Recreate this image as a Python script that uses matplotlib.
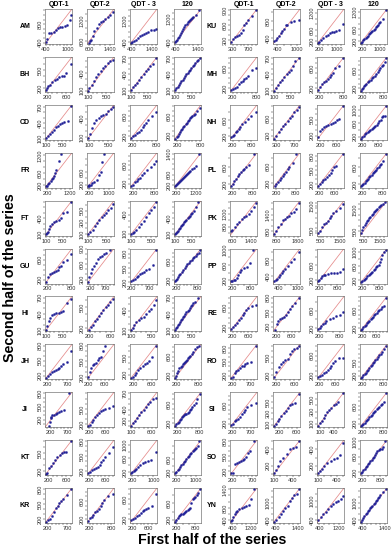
import matplotlib.pyplot as plt
import numpy as np

plt.rcParams.update({
    'font.family': ['Liberation Sans', 'DejaVu Sans'],
    'font.size': 4,
    'axes.linewidth': 0.4,
    'axes.edgecolor': '#555555',
    'xtick.major.size': 1.3,
    'ytick.major.size': 1.3,
    'xtick.major.width': 0.35,
    'ytick.major.width': 0.35,
    'xtick.major.pad': 0.8,
    'ytick.major.pad': 0.6,
    'xtick.labelsize': 4.1,
    'ytick.labelsize': 4.1,
    'xtick.color': '#333333',
    'ytick.color': '#333333',
})

columns = ['QDT-1', 'QDT-2', 'QDT - 3', '120']
left_stations = ['AM', 'BH', 'CD', 'FR', 'FT', 'GU', 'HI', 'JH', 'JI', 'KT', 'KR']
right_stations = ['KU', 'MH', 'NH', 'PL', 'PK', 'PP', 'RE', 'RO', 'SI', 'SO', 'YN']

# first half quantiles (x) / second half quantiles (y), one list per column
AM_x = [[400, 430, 480, 550, 620, 680, 740, 800, 860, 930, 1000, 1060, 1100],
        [580, 620, 680, 740, 800, 880, 960, 1040, 1120, 1200, 1300, 1400, 1500],
        [380, 450, 520, 600, 700, 800, 900, 1000, 1100, 1200, 1350, 1500, 1600],
        [380, 420, 460, 500, 550, 600, 650, 700, 750, 800, 850, 900, 950, 1000, 1050, 1100, 1150, 1200, 1300, 1450]]
AM_y = [[420, 480, 600, 610, 640, 680, 720, 740, 750, 760, 780, 900, 1000],
        [560, 600, 650, 760, 900, 1000, 1100, 1150, 1200, 1250, 1300, 1350, 1450],
        [380, 420, 460, 500, 560, 620, 680, 720, 760, 800, 850, 870, 880],
        [390, 430, 480, 530, 590, 650, 720, 790, 860, 920, 980, 1030, 1080, 1120, 1160, 1200, 1240, 1280, 1350, 1500]]

BH_x = [[160, 180, 200, 250, 300, 350, 400, 450, 500, 550, 600, 700],
        [100, 130, 180, 230, 280, 330, 380, 430, 480, 530, 580, 650],
        [100, 150, 200, 250, 300, 350, 400, 450, 500, 550, 620, 700],
        [100, 130, 160, 190, 220, 250, 280, 310, 340, 370, 400, 430, 460, 490, 520, 550, 580, 620, 660, 700]]
BH_y = [[170, 200, 230, 260, 300, 330, 360, 390, 400, 410, 450, 600],
        [100, 140, 200, 260, 330, 380, 440, 480, 520, 560, 600, 620],
        [110, 160, 210, 250, 300, 350, 400, 460, 500, 560, 600, 700],
        [110, 140, 170, 200, 240, 270, 300, 340, 370, 400, 430, 460, 490, 520, 550, 580, 610, 640, 670, 700]]

CD_x = [[100, 150, 200, 250, 300, 350, 400, 450, 500, 550, 650, 720],
        [80, 120, 160, 200, 250, 300, 350, 400, 450, 500, 550, 600],
        [150, 200, 250, 300, 350, 400, 450, 500, 550, 600, 700, 800],
        [150, 180, 210, 240, 270, 300, 330, 360, 390, 420, 450, 480, 510, 540, 570, 600, 640, 680, 720, 800]]
CD_y = [[110, 150, 190, 230, 270, 320, 340, 380, 390, 420, 440, 720],
        [90, 150, 250, 330, 380, 410, 440, 460, 480, 520, 560, 580],
        [160, 200, 230, 260, 280, 330, 380, 430, 470, 520, 600, 680],
        [140, 170, 200, 240, 280, 310, 340, 370, 400, 430, 460, 490, 520, 550, 570, 590, 610, 640, 700, 760]]

FR_x = [[150, 200, 250, 300, 350, 400, 450, 500, 550, 600, 700, 800],
        [150, 180, 200, 250, 300, 400, 500, 600, 650, 700, 800],
        [150, 200, 250, 300, 350, 400, 450, 500, 600, 700, 800, 850],
        [150, 200, 250, 300, 350, 400, 450, 500, 550, 600, 650, 700, 750, 800, 850, 900, 1000, 1100, 1200, 1350]]
FR_y = [[150, 180, 220, 280, 330, 400, 450, 520, 600, 700, 1000, 1250],
        [150, 160, 180, 200, 250, 300, 350, 500, 600, 900, 1150],
        [140, 180, 230, 260, 300, 330, 380, 430, 500, 560, 620, 700],
        [140, 180, 220, 260, 300, 340, 380, 420, 460, 500, 540, 580, 620, 660, 700, 740, 800, 860, 950, 1400]]

FT_x = [[100, 120, 150, 180, 200, 250, 300, 350, 400, 450, 500, 600, 700],
        [100, 150, 200, 250, 300, 350, 400, 450, 500, 550, 600, 650],
        [100, 130, 160, 200, 250, 300, 350, 400, 450, 500, 550, 600],
        [100, 125, 150, 175, 200, 225, 250, 275, 300, 325, 350, 375, 400, 425, 450, 475, 500, 550, 600, 650]]
FT_y = [[100, 120, 150, 200, 260, 300, 320, 340, 360, 400, 500, 520, 700],
        [100, 140, 180, 240, 290, 340, 390, 430, 470, 510, 550, 620],
        [90, 110, 130, 160, 200, 260, 300, 370, 430, 470, 520, 600],
        [100, 120, 145, 170, 195, 220, 245, 270, 295, 320, 345, 370, 395, 420, 445, 470, 500, 540, 600, 700]]

GU_x = [[150, 200, 250, 300, 350, 400, 450, 500, 550, 600, 700, 800],
        [250, 280, 320, 360, 400, 450, 500, 550, 600, 650, 700, 800],
        [200, 250, 300, 350, 400, 450, 500, 550, 600, 700, 800, 880],
        [150, 180, 210, 240, 270, 300, 340, 380, 420, 460, 500, 540, 580, 620, 660, 700, 740, 780, 820, 860]]
GU_y = [[160, 260, 320, 340, 360, 380, 400, 450, 480, 560, 600, 720],
        [250, 350, 420, 500, 560, 620, 700, 740, 760, 800, 820, 880],
        [220, 240, 260, 300, 340, 380, 400, 420, 460, 480, 560, 880],
        [170, 190, 220, 260, 300, 340, 380, 420, 460, 500, 540, 580, 610, 640, 670, 700, 730, 760, 790, 850]]

HI_x = [[100, 130, 160, 200, 250, 300, 350, 400, 450, 500, 600, 700],
        [180, 220, 260, 300, 340, 380, 420, 460, 500, 540, 580, 640],
        [100, 130, 160, 200, 250, 300, 350, 400, 450, 500, 550, 600],
        [100, 125, 150, 175, 200, 225, 250, 275, 300, 325, 350, 375, 400, 425, 450, 475, 500, 540, 580, 640]]
HI_y = [[100, 180, 260, 320, 380, 400, 410, 420, 430, 460, 600, 680],
        [170, 210, 250, 300, 330, 380, 420, 460, 500, 540, 580, 620],
        [100, 140, 180, 230, 260, 280, 300, 350, 400, 430, 480, 560],
        [100, 130, 160, 190, 220, 250, 280, 310, 340, 370, 400, 430, 450, 480, 510, 540, 570, 600, 620, 700]]

JH_x = [[150, 200, 250, 300, 350, 400, 450, 500, 550, 600, 700, 800],
        [180, 220, 260, 300, 340, 380, 420, 460, 500, 540, 600],
        [150, 180, 220, 260, 300, 350, 400, 450, 500, 550, 600, 700],
        [150, 180, 210, 240, 270, 300, 330, 360, 390, 420, 450, 480, 510, 540, 570, 600, 650, 700, 750, 800]]
JH_y = [[160, 200, 240, 270, 300, 320, 340, 360, 400, 430, 480, 700],
        [200, 300, 380, 420, 440, 460, 520, 560, 580, 700, 800],
        [140, 160, 190, 230, 270, 310, 350, 380, 400, 440, 500, 700],
        [160, 200, 250, 300, 350, 380, 410, 440, 460, 480, 500, 530, 560, 590, 620, 650, 700, 750, 800, 830]]

JI_x = [[150, 180, 200, 220, 250, 300, 350, 400, 450, 500, 600, 750],
        [180, 220, 260, 300, 350, 400, 450, 500, 550, 600, 700, 800],
        [100, 150, 200, 250, 300, 350, 400, 450, 500, 550, 620, 700],
        [150, 180, 210, 240, 270, 300, 330, 360, 390, 420, 450, 480, 510, 540, 570, 600, 650, 700, 750, 820]]
JI_y = [[60, 150, 230, 260, 300, 320, 340, 360, 380, 400, 420, 800],
        [170, 190, 240, 290, 340, 380, 420, 460, 480, 500, 520, 560],
        [100, 150, 200, 240, 300, 350, 400, 450, 500, 550, 600, 620],
        [140, 170, 200, 230, 260, 290, 320, 340, 360, 380, 400, 420, 440, 470, 500, 540, 580, 620, 700, 800]]

KT_x = [[150, 180, 220, 260, 300, 350, 400, 450, 500, 550, 600, 700],
        [150, 200, 250, 300, 350, 400, 450, 500, 550, 600, 700, 800],
        [150, 200, 250, 300, 350, 400, 500, 600, 700, 800, 900, 1100],
        [150, 200, 250, 300, 350, 400, 450, 500, 550, 600, 650, 700, 750, 800, 850, 900, 950, 1000, 1050, 1100]]
KT_y = [[150, 170, 250, 280, 330, 380, 430, 470, 500, 520, 520, 700],
        [170, 190, 220, 240, 260, 280, 330, 380, 430, 480, 560, 680],
        [160, 190, 230, 260, 300, 340, 400, 460, 500, 520, 560, 800],
        [160, 210, 260, 310, 360, 410, 460, 510, 560, 610, 660, 710, 760, 800, 840, 880, 920, 960, 1000, 1150]]

KR_x = [[150, 200, 250, 300, 350, 400, 450, 500, 550, 600, 700, 800],
        [150, 200, 250, 300, 350, 400, 450, 500, 550, 600, 700, 850],
        [150, 200, 250, 300, 350, 400, 450, 500, 550, 600, 700, 800],
        [150, 190, 230, 270, 310, 350, 390, 430, 470, 510, 550, 590, 630, 670, 710, 750, 800, 850, 900, 950]]
KR_y = [[150, 180, 200, 260, 350, 420, 470, 520, 560, 600, 680, 800],
        [170, 220, 260, 300, 350, 380, 420, 480, 550, 620, 700, 750],
        [180, 200, 230, 260, 290, 330, 360, 380, 400, 420, 460, 700],
        [150, 200, 240, 280, 310, 330, 350, 370, 390, 410, 430, 460, 500, 600, 700, 730, 760, 800, 850, 950]]

KU_x = [[250, 300, 350, 400, 450, 500, 550, 600, 650, 700, 800, 900],
        [300, 350, 400, 450, 500, 550, 600, 650, 700, 800, 900, 1050],
        [150, 200, 300, 400, 500, 600, 700, 800, 900, 1000, 1100, 1300],
        [150, 200, 250, 300, 350, 400, 450, 500, 550, 600, 650, 700, 750, 800, 850, 900, 950, 1000, 1100, 1250]]
KU_y = [[270, 330, 360, 380, 400, 450, 500, 600, 650, 700, 780, 900],
        [330, 360, 420, 460, 520, 580, 620, 700, 720, 780, 800, 820],
        [150, 180, 250, 320, 380, 420, 480, 520, 540, 560, 600, 800],
        [150, 190, 230, 270, 310, 350, 390, 430, 470, 510, 550, 590, 630, 670, 710, 760, 810, 860, 950, 1250]]

MH_x = [[150, 200, 250, 300, 350, 400, 450, 500, 550, 600, 700, 800],
        [100, 150, 200, 250, 300, 350, 400, 450, 500, 550, 600, 700],
        [150, 200, 250, 300, 350, 400, 450, 500, 550, 600, 700, 800],
        [150, 180, 210, 240, 270, 300, 340, 380, 420, 460, 500, 540, 580, 620, 660, 700, 740, 780, 820, 860]]
MH_y = [[170, 190, 210, 230, 280, 330, 350, 380, 400, 450, 560, 600],
        [100, 150, 200, 260, 300, 360, 400, 440, 480, 560, 650, 700],
        [170, 230, 280, 320, 350, 380, 420, 460, 500, 600, 650, 800],
        [150, 180, 210, 240, 270, 300, 330, 360, 390, 420, 450, 480, 510, 550, 600, 640, 680, 720, 780, 860]]

NH_x = [[150, 200, 250, 300, 350, 400, 450, 500, 600, 700, 800, 950],
        [250, 300, 350, 400, 450, 500, 550, 600, 650, 700, 750, 800],
        [150, 200, 250, 300, 350, 400, 450, 500, 550, 600, 650, 750],
        [150, 200, 250, 300, 350, 400, 450, 500, 550, 600, 650, 700, 750, 800, 850, 900, 950, 1000, 1050, 1100]]
NH_y = [[180, 200, 240, 300, 330, 380, 430, 500, 560, 620, 700, 800],
        [250, 300, 360, 410, 460, 500, 540, 600, 640, 700, 740, 780],
        [180, 280, 330, 360, 380, 400, 420, 440, 460, 490, 520, 750],
        [150, 190, 230, 270, 310, 350, 380, 410, 440, 470, 500, 530, 560, 600, 650, 700, 780, 800, 820, 1100]]

PL_x = [[150, 200, 250, 300, 350, 400, 450, 500, 550, 600, 700, 850],
        [150, 200, 250, 300, 350, 400, 450, 500, 550, 600, 700, 800],
        [150, 200, 250, 300, 350, 400, 450, 500, 550, 600, 650, 850],
        [150, 185, 220, 255, 290, 325, 360, 395, 430, 465, 500, 535, 570, 605, 640, 675, 710, 760, 820, 900]]
PL_y = [[160, 200, 280, 330, 380, 430, 480, 520, 560, 600, 650, 900],
        [130, 180, 230, 280, 330, 380, 430, 480, 540, 600, 680, 900],
        [160, 200, 240, 280, 320, 360, 400, 450, 500, 560, 600, 850],
        [150, 180, 210, 240, 270, 300, 330, 360, 390, 420, 450, 480, 510, 540, 570, 600, 640, 680, 730, 900]]

PK_x = [[550, 600, 700, 800, 900, 1000, 1100, 1200, 1300, 1400, 1500, 1600],
        [700, 800, 900, 1000, 1100, 1200, 1300, 1400, 1500, 1600, 1700, 1850],
        [350, 450, 550, 650, 750, 850, 950, 1050, 1150, 1300, 1500, 1650],
        [350, 420, 490, 560, 630, 700, 770, 840, 910, 980, 1050, 1120, 1190, 1260, 1330, 1400, 1470, 1540, 1650, 1800]]
PK_y = [[650, 700, 780, 870, 950, 1050, 1100, 1150, 1200, 1300, 1450, 1550],
        [700, 800, 950, 1050, 1200, 1250, 1300, 1350, 1450, 1500, 1600, 1800],
        [400, 500, 650, 750, 800, 900, 1000, 1100, 1200, 1300, 1400, 1550],
        [400, 550, 700, 800, 880, 950, 1020, 1090, 1160, 1230, 1300, 1360, 1420, 1480, 1540, 1600, 1650, 1700, 1750, 1850]]

PP_x = [[150, 200, 250, 300, 350, 400, 450, 500, 600, 700, 800, 900],
        [250, 300, 350, 400, 450, 500, 550, 600, 700, 800, 900, 1050],
        [150, 200, 250, 300, 350, 400, 500, 600, 700, 800, 900, 1000],
        [150, 195, 240, 285, 330, 375, 420, 465, 510, 555, 600, 645, 690, 735, 780, 825, 870, 915, 960, 1050]]
PP_y = [[170, 180, 200, 220, 260, 350, 420, 480, 520, 560, 650, 1000],
        [280, 300, 340, 380, 420, 470, 520, 580, 660, 740, 820, 1000],
        [170, 200, 250, 300, 330, 350, 370, 380, 390, 400, 430, 500],
        [160, 190, 220, 250, 280, 310, 340, 370, 400, 440, 480, 520, 560, 600, 640, 700, 800, 900, 1000, 1050]]

RE_x = [[150, 200, 250, 300, 350, 400, 450, 500, 550, 600, 700, 800],
        [150, 200, 250, 300, 350, 400, 450, 500, 550, 600, 700, 800],
        [150, 200, 250, 300, 350, 400, 500, 600, 700, 800, 900],
        [150, 185, 220, 255, 290, 325, 360, 395, 430, 465, 500, 535, 570, 605, 640, 680, 720, 760, 820, 880]]
RE_y = [[180, 210, 250, 300, 350, 400, 450, 500, 550, 600, 640, 660],
        [130, 250, 320, 350, 380, 400, 440, 500, 560, 620, 700, 800],
        [170, 200, 240, 280, 320, 360, 400, 440, 480, 500, 560],
        [150, 180, 210, 240, 270, 300, 330, 360, 390, 420, 450, 480, 510, 540, 570, 600, 630, 660, 700, 880]]

RO_x = [[150, 200, 250, 300, 350, 400, 450, 500, 550, 600, 700, 850],
        [150, 200, 250, 300, 350, 400, 450, 500, 550, 600, 650, 700],
        [150, 200, 250, 300, 350, 400, 450, 500, 550, 600, 700, 800],
        [150, 185, 220, 255, 290, 325, 360, 395, 430, 465, 500, 535, 570, 605, 640, 680, 720, 760, 820, 880]]
RO_y = [[160, 180, 250, 300, 330, 360, 400, 420, 450, 480, 500, 850],
        [170, 250, 330, 380, 420, 450, 480, 560, 600, 640, 660, 700],
        [170, 200, 220, 250, 280, 320, 350, 400, 450, 500, 550, 560],
        [150, 180, 210, 240, 270, 305, 340, 375, 410, 445, 480, 515, 550, 585, 620, 660, 700, 740, 800, 880]]

SI_x = [[150, 200, 250, 300, 350, 400, 450, 500, 550, 600, 700, 850],
        [80, 120, 160, 200, 250, 300, 350, 400, 450, 500, 550, 650],
        [60, 100, 140, 180, 220, 260, 300, 350, 400, 450, 500, 600],
        [150, 185, 220, 255, 290, 325, 360, 395, 430, 465, 500, 535, 570, 605, 640, 680, 720, 760, 820, 880]]
SI_y = [[160, 200, 250, 270, 300, 350, 400, 450, 500, 550, 600, 650],
        [80, 120, 160, 210, 260, 300, 350, 400, 450, 460, 480, 640],
        [60, 110, 150, 190, 250, 300, 330, 350, 400, 420, 450, 600],
        [150, 175, 200, 225, 250, 280, 310, 340, 370, 400, 430, 460, 490, 520, 550, 580, 610, 640, 680, 880]]

SO_x = [[150, 200, 250, 300, 350, 400, 450, 500, 550, 600, 650, 750],
        [100, 130, 160, 200, 250, 300, 350, 400, 450, 500],
        [100, 130, 160, 200, 250, 300, 350, 400, 450, 500],
        [150, 190, 230, 270, 310, 350, 390, 430, 470, 510, 550, 590, 630, 670, 710, 750, 800, 850, 900, 950]]
SO_y = [[160, 170, 350, 370, 380, 400, 420, 440, 480, 560, 600, 800],
        [110, 150, 200, 260, 300, 350, 400, 420, 430, 500],
        [110, 130, 160, 200, 230, 260, 280, 300, 330, 480],
        [160, 200, 240, 280, 320, 360, 400, 440, 480, 520, 560, 600, 640, 700, 750, 780, 790, 800, 850, 1000]]

YN_x = [[350, 400, 450, 500, 550, 600, 700, 800, 900, 1000, 1100, 1200, 1300],
        [350, 450, 550, 650, 750, 850, 950, 1050, 1150, 1250, 1350, 1450],
        [350, 450, 550, 650, 750, 850, 950, 1050, 1150, 1250, 1350],
        [350, 400, 450, 500, 550, 600, 650, 700, 750, 800, 850, 900, 950, 1000, 1050, 1100, 1150, 1200, 1300, 1450]]
YN_y = [[360, 400, 500, 600, 650, 700, 750, 800, 820, 850, 900, 1100, 1400],
        [350, 420, 500, 600, 700, 800, 900, 1050, 1150, 1250, 1300, 1450],
        [400, 500, 600, 650, 750, 850, 900, 950, 1000, 1050, 1150],
        [350, 420, 480, 540, 600, 650, 700, 750, 800, 850, 900, 950, 1000, 1050, 1100, 1150, 1200, 1250, 1350, 1450]]

# tick labels shown under / beside each panel
AM_xt = [(400, 1000), (600, 1400), (400, 1400), (400, 1400)]
AM_yt = [(400, 800), (600, 1200), (400, 1200), (400, 1200)]
BH_xt = [(200, 600), (100, 500), (100, 500), (100, 500)]
BH_yt = [(200, 500), (100, 400), (100, 400, 700), (100, 400, 700)]
CD_xt = [(100, 500), (100, 500), (200, 800), (200, 800)]
CD_yt = [(100, 400, 700), (100, 400), (200, 600), (200, 600)]
FR_xt = [(200, 1200), (200, 1000), (200, 800), (200, 1200)]
FR_yt = [(200, 600, 1200), (200, 600, 1200), (200, 600), (200, 600, 1400)]
FT_xt = [(100, 500), (100, 500), (100, 500), (100, 500)]
FT_yt = [(100, 400), (100, 300, 500), (100, 400), (100, 400)]
GU_xt = [(200, 800), (300, 700), (200, 700), (200, 800)]
GU_yt = [(200, 600), (300, 600, 900), (200, 500, 800), (200, 600)]
HI_xt = [(100, 500), (200, 600), (100, 500), (100, 500)]
HI_yt = [(100, 400, 700), (200, 500), (100, 400), (100, 400, 700)]
JH_xt = [(200, 700), (200, 600), (200, 600), (200, 800)]
JH_yt = [(200, 500, 800), (200, 500, 800), (200, 500), (200, 600)]
JI_xt = [(200, 700), (200, 600), (100, 600), (200, 800)]
JI_yt = [(200, 500, 800), (200, 500), (200, 400, 700), (200, 600)]
KT_xt = [(200, 600), (200, 600), (200, 1000), (200, 1000)]
KT_yt = [(200, 500), (200, 500, 800), (200, 600, 1000), (200, 600, 1200)]
KR_xt = [(200, 700), (200, 800), (200, 600), (200, 800)]
KR_yt = [(200, 500, 800), (200, 600, 1000), (200, 600, 1000), (200, 600, 1000)]
KU_xt = [(300, 700), (400, 1000), (200, 1000), (200, 1000)]
KU_yt = [(300, 600, 900), (400, 800), (200, 600, 1200), (200, 600, 1200)]
MH_xt = [(200, 800), (100, 500), (200, 800), (200, 800)]
MH_yt = [(200, 600), (100, 400, 700), (200, 600), (200, 600)]
NH_xt = [(200, 800), (300, 700), (200, 600), (200, 800)]
NH_yt = [(200, 600, 1000), (300, 600), (200, 500), (200, 600, 1000)]
PL_xt = [(200, 800), (200, 800), (200, 600), (200, 800)]
PL_yt = [(200, 600), (200, 600), (200, 500, 800), (200, 600)]
PK_xt = [(600, 1400), (800, 1800), (500, 1500), (500, 1500)]
PK_yt = [(800, 1200), (800, 1400), (500, 1500), (500, 1500)]
PP_xt = [(200, 800), (400, 1000), (200, 800), (200, 800)]
PP_yt = [(200, 600, 1000), (400, 800), (200, 600), (200, 600, 1000)]
RE_xt = [(200, 600), (200, 600), (200, 800), (200, 600)]
RE_yt = [(200, 600), (200, 500, 800), (200, 600), (200, 600)]
RO_xt = [(200, 700), (200, 600), (200, 600), (200, 800)]
RO_yt = [(200, 500, 800), (200, 500), (200, 600), (200, 500)]
SI_xt = [(200, 700), (200, 600), (100, 400), (200, 800)]
SI_yt = [(200, 600), (100, 300, 500), (100, 300, 500), (200, 600)]
SO_xt = [(200, 700), (100, 400), (100, 400), (200, 800)]
SO_yt = [(200, 500, 800), (200, 400), (200, 400), (200, 600, 1000)]
YN_xt = [(400, 1200), (400, 1400), (400, 1200), (400, 1400)]
YN_yt = [(400, 800, 1400), (400, 1000), (400, 1000), (400, 1000)]

g = globals()
first_half = {s: g[s + '_x'] for s in left_stations + right_stations}
second_half = {s: g[s + '_y'] for s in left_stations + right_stations}
x_labels = {s: g[s + '_xt'] for s in left_stations + right_stations}
y_labels = {s: g[s + '_yt'] for s in left_stations + right_stations}

W, H = 392, 550
fig = plt.figure(figsize=(W / 100, H / 100), dpi=100)

col_left = [[45, 87, 130, 174], [230, 273, 317, 360]]
label_x = [25, 212]
pw, ph = 27, 35
top0, pitch = 9, 47.9

pt_color = '#1f1f96'
line_color = '#e58a8a'


def tick_step(span):
    for s in (25, 50, 100, 200, 250, 500):
        if span / s <= 8:
            return s
    return 1000


def set_ticks(ax, axis, lo, hi, shown):
    s = tick_step(hi - lo)
    ticks = set(np.arange(np.ceil(lo / s) * s, hi + 1e-9, s).round().astype(int))
    ticks |= {v for v in shown if lo <= v <= hi}
    ticks = sorted(ticks)
    labels = [str(t) if t in shown else '' for t in ticks]
    if axis == 'x':
        ax.set_xticks(ticks)
        ax.set_xticklabels(labels)
    else:
        ax.set_yticks(ticks)
        ax.set_yticklabels(labels, rotation=90, va='center')


for half, stations in enumerate([left_stations, right_stations]):
    for r, st in enumerate(stations):
        top = top0 + r * pitch
        fig.text(label_x[half] / W, 1 - (top + ph / 2) / H, st,
                 fontsize=5, fontweight='bold', ha='center', va='center')
        for c in range(4):
            xs = first_half[st][c]
            ys = second_half[st][c]
            left = col_left[half][c]
            ax = fig.add_axes([left / W, 1 - (top + ph) / H, pw / W, ph / H])
            lo = min(min(xs), min(ys))
            hi = max(max(xs), max(ys))
            pad = 0.04 * (hi - lo)
            ax.set_xlim(lo - pad, hi + pad)
            ax.set_ylim(lo - pad, hi + pad)
            ax.plot([lo - pad, hi + pad], [lo - pad, hi + pad],
                    color=line_color, lw=0.55, zorder=1)
            ax.plot(xs, ys, 'o', ms=1.6, mfc=pt_color, mec=pt_color,
                    mew=0.2, zorder=2)
            set_ticks(ax, 'x', lo - pad, hi + pad, x_labels[st][c])
            set_ticks(ax, 'y', lo - pad, hi + pad, y_labels[st][c])
            if r == 0:
                fig.text((left + pw / 2) / W, 1 - 4.5 / H, columns[c],
                         fontsize=5, fontweight='bold', ha='center', va='center')

fig.text(212 / W, 1 - 540 / H, 'First half of the series', fontsize=10.3,
         fontweight='bold', ha='center', va='center')
fig.text(10 / W, 1 - 278 / H, 'Second half of the series', fontsize=10.3,
         fontweight='bold', ha='center', va='center', rotation=90)

fig.savefig('out.png', dpi=100)
